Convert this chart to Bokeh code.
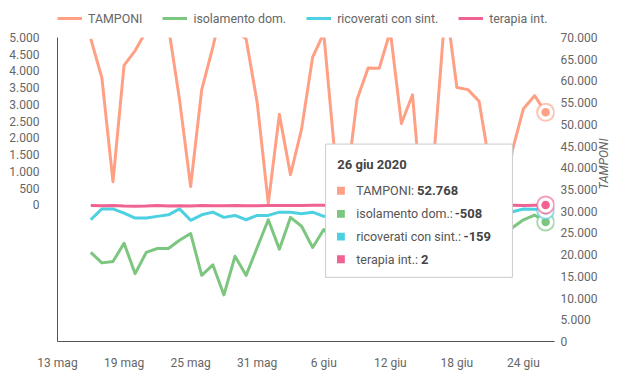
import math
import pandas as pd
from bokeh.plotting import figure
from bokeh.layouts import column
from bokeh.models import (Range1d, LinearAxis, FixedTicker, CustomJSTickFormatter,
                          Legend, LegendItem, BoxAnnotation, Label)
from bokeh.embed import file_html
from bokeh.resources import INLINE

# ---------------- data ----------------
origin = pd.Timestamp("2020-05-13")
dates = pd.date_range("2020-05-16", "2020-06-26", freq="D")

tamponi = [69700, 60700, 36800, 63600, 67000, 71500, 76000, 72500, 55700, 35700,
           58000, 67700, 79000, 71500, 69700, 55000, 31800, 52300, 38400, 48900,
           65500, 71000, 43000, 35000, 55700, 63000, 62900, 71500, 50200, 56800,
           27000, 45000, 78000, 58500, 58000, 55300, 40000, 26000, 44000, 53600,
           56600, 52768]
isolamento = [-1415, -1728, -1688, -1143, -2050, -1415, -1298, -1298, -1055, -850,
              -2100, -1787, -2685, -1532, -2100, -1270, -440, -1318, -370, -635,
              -1270, -733, -1100, -1450, -800, -1250, -650, -1300, -900, -1050,
              -1500, -700, -600, -1000, -750, -1150, -550, -950, -680, -443,
              -300, -508]
ricoverati = [-440, -117, -117, -243, -390, -390, -340, -293, -117, -457,
              -293, -214, -369, -311, -440, -311, -311, -214, -214, -264,
              -214, -340, -260, -300, -200, -280, -220, -250, -180, -240,
              -300, -210, -190, -230, -170, -260, -210, -240, -200, -120,
              -130, -159]
terapia = [-13, -21, -13, -33, -34, -33, -13, -31, -23, -32,
           -12, -20, -19, -13, -20, -21, -16, -16, -17, -12,
           -8, -11, -16, -27, -17, -9, -12, -13, -16, -11,
           -4, -13, -16, -6, -1, -13, -8, -15, -6, -15,
           -8, 2]

series_names = ["TAMPONI", "isolamento dom.", "ricoverati con sint.", "terapia int."]
tick_dates = pd.to_datetime(["2020-05-13", "2020-05-19", "2020-05-25", "2020-05-31",
                             "2020-06-06", "2020-06-12", "2020-06-18", "2020-06-24"])
tick_labels = ["13 mag", "19 mag", "25 mag", "31 mag", "6 giu", "12 giu", "18 giu", "24 giu"]
left_ticks = list(range(0, 5001, 500))
right_ticks = list(range(0, 70001, 5000))
tooltip_title = "26 giu 2020"

# ---------------- styles / layout ----------------
colors = ["#FFA085", "#7CC67F", "#4DD0E1", "#F06292"]
FONT = "Roboto"
W = 621
LEG_H = 30                                  # legend strip height
H = 372 - LEG_H                             # main figure height
FL, FW, FH = 57, 508, 308
FT = 37 - LEG_H                             # frame top inside main figure
X0, X1 = 0, 44.8
YL0, YL1 = -4075, 5000
YR0, YR1 = 0, 70000

def dx(px):
    return X0 + (px - FL) / FW * (X1 - X0)

def dy(page_py):
    return YL1 - (page_py - LEG_H - FT) / FH * (YL1 - YL0)

xs = [(d - origin).days for d in dates]
tick_x = [(d - origin).days for d in tick_dates]

p = figure(width=W, height=H, output_backend="svg", toolbar_location=None,
           x_range=Range1d(X0, X1), y_range=Range1d(YL0, YL1),
           min_border_left=FL, min_border_right=W - FL - FW,
           min_border_top=FT, min_border_bottom=H - FT - FH)
p.extra_y_ranges = {"tamponi": Range1d(YR0, YR1)}
p.xgrid.visible = False
p.ygrid.visible = False
p.outline_line_color = None
p.background_fill_color = "white"

fmt_code = "return Math.round(tick).toString().replace(/\\B(?=(\\d{3})+(?!\\d))/g, '.');"

# left axis
ya = p.yaxis[0]
ya.ticker = FixedTicker(ticks=left_ticks)
ya.formatter = CustomJSTickFormatter(code=fmt_code)
ya.major_tick_line_color = None
ya.minor_tick_line_color = None
ya.axis_line_color = "#555555"
ya.major_label_text_font = FONT
ya.major_label_text_font_size = "12px"
ya.major_label_text_color = "#666666"
ya.major_label_standoff = 12

# bottom axis
xa = p.xaxis[0]
xa.ticker = FixedTicker(ticks=tick_x)
xa.major_label_overrides = {int(t): l for t, l in zip(tick_x, tick_labels)}
xa.major_tick_line_color = None
xa.minor_tick_line_color = None
xa.axis_line_color = "#555555"
xa.major_label_text_font = FONT
xa.major_label_text_font_size = "12px"
xa.major_label_text_color = "#666666"
xa.major_label_standoff = 8

# right axis
ra = LinearAxis(y_range_name="tamponi", axis_label=series_names[0])
ra.ticker = FixedTicker(ticks=right_ticks)
ra.formatter = CustomJSTickFormatter(code=fmt_code)
ra.major_tick_line_color = None
ra.minor_tick_line_color = None
ra.axis_line_color = None
ra.major_label_text_font = FONT
ra.major_label_text_font_size = "12px"
ra.major_label_text_color = "#666666"
ra.major_label_standoff = 0
ra.axis_label_text_font = FONT
ra.axis_label_text_font_size = "12px"
ra.axis_label_text_font_style = "italic"
ra.axis_label_text_color = "#666666"
ra.axis_label_standoff = 4
ra.axis_label_orientation = math.pi / 2
p.add_layout(ra, "right")

# lines
r_t = p.line(xs, tamponi, y_range_name="tamponi", line_color=colors[0], line_width=3, line_join="round")
r_i = p.line(xs, isolamento, line_color=colors[1], line_width=3, line_join="round")
r_r = p.line(xs, ricoverati, line_color=colors[2], line_width=3, line_join="round")
r_p = p.line(xs, terapia, line_color=colors[3], line_width=3, line_join="round")

# active dots at last point
for vals, c, rng in [(tamponi, colors[0], "tamponi"), (isolamento, colors[1], "default"),
                     (ricoverati, colors[2], "default"), (terapia, colors[3], "default")]:
    p.scatter([xs[-1]], [vals[-1]], y_range_name=rng, size=17, fill_color="white",
              line_color=c, line_width=2, line_alpha=0.65)
    p.scatter([xs[-1]], [vals[-1]], y_range_name=rng, size=10, fill_color=c,
              line_color="white", line_width=1.5)

# tooltip overlay
def it_fmt(v):
    return f"{v:,}".replace(",", ".")

p.add_layout(BoxAnnotation(left=dx(331), right=dx(522), top=dy(145), bottom=dy(280),
                           fill_color="white", fill_alpha=1.0,
                           line_color="#cccccc", line_width=1, line_alpha=1.0))
p.add_layout(Label(x=dx(343), y=dy(166), text=tooltip_title, text_font=FONT,
                   text_font_size="13px", text_font_style="bold", text_color="#444444",
                   text_baseline="middle"))
row_y = [192.3, 215.7, 238.7, 261.7]
val_x = [424.5, 463, 472, 428.5]
last_vals = [tamponi[-1], isolamento[-1], ricoverati[-1], terapia[-1]]
for name, c, ry, vx, v in zip(series_names, colors, row_y, val_x, last_vals):
    p.add_layout(BoxAnnotation(left=dx(342.7), right=dx(350.7), top=dy(ry - 4), bottom=dy(ry + 4),
                               fill_color=c, fill_alpha=1.0, line_color=None))
    p.add_layout(Label(x=dx(362.3), y=dy(ry), text=f"{name}:", text_font=FONT,
                       text_font_size="12.5px", text_color="#555555", text_baseline="middle"))
    p.add_layout(Label(x=dx(vx), y=dy(ry), text=it_fmt(v), text_font=FONT,
                       text_font_size="13px", text_font_style="bold", text_color="#444444",
                       text_baseline="middle"))

# legend strip (separate small figure on top); its line renderers sit outside the visible range
lg = figure(width=W, height=LEG_H, output_backend="svg", toolbar_location=None,
            x_range=Range1d(0, 1), y_range=Range1d(0, 1),
            x_axis_type=None, y_axis_type=None,
            min_border_left=FL, min_border_right=0, min_border_top=0, min_border_bottom=0)
lg.outline_line_color = None
lg.xgrid.visible = False
lg.ygrid.visible = False
leg_renderers = [lg.line([5, 6], [5, 6], line_color=c, line_width=3) for c in colors]
legend = Legend(items=[LegendItem(label=n, renderers=[r]) for n, r in
                       zip(series_names, leg_renderers)],
                orientation="horizontal", location=(0, LEG_H - 8 - 20),
                glyph_width=25, glyph_height=20, label_height=20, label_standoff=6,
                spacing=20, padding=0, margin=0, border_line_color=None,
                background_fill_alpha=0, label_text_font=FONT,
                label_text_font_size="12.4px", label_text_color="#666666")
lg.add_layout(legend)

layout = column(lg, p, spacing=0)
open("out.html", "w").write(file_html(layout, INLINE))
